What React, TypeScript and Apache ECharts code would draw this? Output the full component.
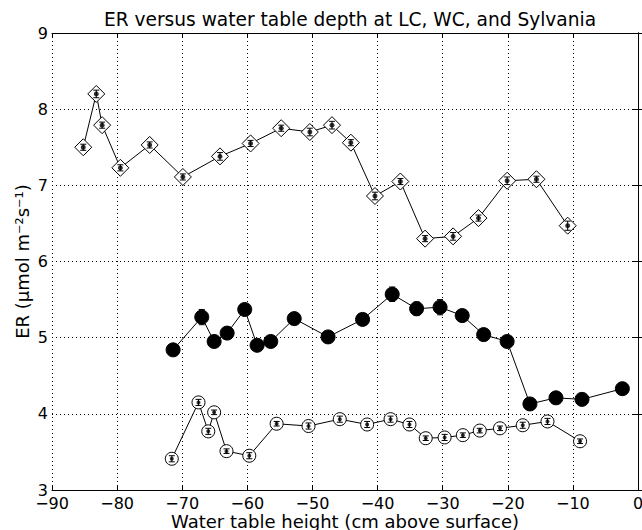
import { useEffect, useRef } from "react";
import * as echarts from "echarts";

// diamonds (top series)
const diamondX = [-85.2, -83.2, -82.3, -79.5, -75.0, -69.9, -64.2, -59.5, -54.8, -50.4, -47.0, -44.1, -40.4, -36.5, -32.7, -28.4, -24.5, -20.1, -15.6, -10.8];
const diamondY = [7.5, 8.2, 7.79, 7.23, 7.53, 7.11, 7.38, 7.55, 7.75, 7.7, 7.79, 7.56, 6.86, 7.05, 6.3, 6.33, 6.57, 7.06, 7.08, 6.47];
const diamondErr = [0.04, 0.05, 0.04, 0.04, 0.04, 0.04, 0.05, 0.04, 0.04, 0.05, 0.05, 0.04, 0.05, 0.04, 0.04, 0.05, 0.04, 0.05, 0.04, 0.06];

// filled circles (middle series)
const filledX = [-71.4, -67.0, -65.1, -63.1, -60.4, -58.5, -56.4, -52.8, -47.6, -42.3, -37.75, -34.0, -30.4, -27.0, -23.7, -20.1, -16.6, -12.6, -8.6, -2.4];
const filledY = [4.84, 5.27, 4.95, 5.06, 5.37, 4.9, 4.95, 5.25, 5.01, 5.24, 5.57, 5.38, 5.4, 5.29, 5.04, 4.95, 4.13, 4.21, 4.19, 4.33];
const filledErr = [0.04, 0.1, 0.04, 0.05, 0.05, 0.04, 0.04, 0.05, 0.04, 0.05, 0.095, 0.09, 0.1, 0.07, 0.06, 0.04, 0.04, 0.04, 0.04, 0.04];

// open circles (bottom series)
const openX = [-71.6, -67.5, -66.0, -65.1, -63.2, -59.7, -55.5, -50.6, -45.8, -41.6, -38.0, -35.1, -32.6, -29.7, -26.9, -24.3, -21.2, -17.7, -13.9, -8.9];
const openY = [3.41, 4.15, 3.77, 4.02, 3.51, 3.45, 3.87, 3.84, 3.93, 3.86, 3.93, 3.86, 3.68, 3.69, 3.72, 3.78, 3.81, 3.85, 3.9, 3.64];
const openErr = [0.04, 0.04, 0.04, 0.03, 0.03, 0.04, 0.03, 0.04, 0.04, 0.04, 0.04, 0.04, 0.03, 0.04, 0.03, 0.03, 0.03, 0.04, 0.04, 0.03];

const xTicks = { min: -90, max: 0, interval: 10 };
const yTicks = { min: 3, max: 9, interval: 1 };

const FONT = "DejaVu Sans";

const pairs = (xs: number[], ys: number[]) => xs.map((x, i) => [x, ys[i]]);
const triples = (xs: number[], ys: number[], es: number[]) => xs.map((x, i) => [x, ys[i], es[i]]);

const minus = (v: number) => (v < 0 ? "\u2212" + Math.abs(v) : String(v));

const errorBars = (data: number[][]) => ({
    type: "custom",
    data,
    z: 3,
    encode: { x: 0, y: 1 },
    renderItem: (_params: any, api: any) => {
        const x = api.value(0);
        const y = api.value(1);
        const e = api.value(2);
        const lo = api.coord([x, y - e]);
        const hi = api.coord([x, y + e]);
        const cap = 3;
        const st = { stroke: "#000", lineWidth: 1 };
        return {
            type: "group",
            children: [
                { type: "line", shape: { x1: lo[0], y1: lo[1], x2: hi[0], y2: hi[1] }, style: st },
                { type: "line", shape: { x1: lo[0] - cap, y1: lo[1], x2: lo[0] + cap, y2: lo[1] }, style: st },
                { type: "line", shape: { x1: hi[0] - cap, y1: hi[1], x2: hi[0] + cap, y2: hi[1] }, style: st },
            ],
        };
    },
});

const App = () => {
    const chartRef = useRef<HTMLDivElement>(null);

    useEffect(() => {
        document.body.style.margin = "0";
        if (!chartRef.current) return;

        const chart = echarts.init(chartRef.current, null, { renderer: "svg" });

        const axisLine = { show: true, lineStyle: { color: "#000", width: 1 } };
        const tick = { show: true, inside: true, length: 5, lineStyle: { color: "#000" } };

        chart.setOption({
            animation: false,
            textStyle: { fontFamily: FONT },
            title: {
                text: "ER versus water table depth at LC, WC, and Sylvania",
                left: 345,
                top: 5,
                textAlign: "center",
                textStyle: { fontFamily: FONT, fontSize: 18.6, fontWeight: "normal", color: "#000" },
            },
            grid: { left: 52, right: 4, top: 33, bottom: 40, outerBoundsMode: "none" },
            xAxis: [
                {
                    type: "value",
                    ...xTicks,
                    position: "bottom",
                    name: "Water table height (cm above surface)",
                    nameLocation: "middle",
                    nameGap: 22,
                    nameMoveOverlap: false,
                    nameTextStyle: { fontFamily: FONT, fontSize: 18, lineHeight: 18, color: "#000" },
                    axisLine,
                    axisTick: tick,
                    axisLabel: { color: "#000", fontSize: 16, lineHeight: 16, fontFamily: FONT, margin: 5, formatter: minus },
                    splitLine: { show: true, lineStyle: { color: "#000", type: [1, 3], width: 1 } },
                },
                {
                    type: "value",
                    ...xTicks,
                    position: "top",
                    axisLine,
                    axisTick: tick,
                    axisLabel: { show: false },
                    splitLine: { show: false },
                },
            ],
            yAxis: [
                {
                    type: "value",
                    ...yTicks,
                    position: "left",
                    name: "ER (\u03BCmol m\u207B\u00B2s\u207B\u00B9)",
                    nameLocation: "middle",
                    nameGap: 21,
                    nameMoveOverlap: false,
                    nameTextStyle: { fontFamily: FONT, fontSize: 18, color: "#000" },
                    axisLine,
                    axisTick: tick,
                    axisLabel: { color: "#000", fontSize: 16, fontFamily: FONT, margin: 4 },
                    splitLine: { show: true, lineStyle: { color: "#000", type: [1, 3], width: 1 } },
                },
                {
                    type: "value",
                    ...yTicks,
                    position: "right",
                    axisLine,
                    axisTick: tick,
                    axisLabel: { show: false },
                    splitLine: { show: false },
                },
            ],
            series: [
                {
                    type: "line",
                    data: pairs(diamondX, diamondY),
                    z: 2,
                    symbol: "diamond",
                    symbolSize: 17,
                    showAllSymbol: true,
                    lineStyle: { color: "#000", width: 1 },
                    itemStyle: { color: "#fff", borderColor: "#000", borderWidth: 1 },
                },
                {
                    type: "line",
                    data: pairs(filledX, filledY),
                    z: 2,
                    symbol: "circle",
                    symbolSize: 14,
                    showAllSymbol: true,
                    lineStyle: { color: "#000", width: 1 },
                    itemStyle: { color: "#000", borderColor: "#000", borderWidth: 1 },
                },
                {
                    type: "line",
                    data: pairs(openX, openY),
                    z: 2,
                    symbol: "circle",
                    symbolSize: 13,
                    showAllSymbol: true,
                    lineStyle: { color: "#000", width: 1 },
                    itemStyle: { color: "#fff", borderColor: "#000", borderWidth: 1 },
                },
                errorBars(triples(diamondX, diamondY, diamondErr)),
                errorBars(triples(filledX, filledY, filledErr)),
                errorBars(triples(openX, openY, openErr)),
                {
                    type: "scatter",
                    data: pairs(diamondX, diamondY),
                    z: 4,
                    symbol: "circle",
                    symbolSize: 5,
                    itemStyle: { color: "#000" },
                },
                {
                    type: "scatter",
                    data: pairs(openX, openY),
                    z: 4,
                    symbol: "circle",
                    symbolSize: 4,
                    itemStyle: { color: "#000" },
                },
            ],
        });

        return () => {
            chart.dispose();
        };
    }, []);

    return <div ref={chartRef} style={{ width: "642px", height: "530px" }} />;
};

export default App;
